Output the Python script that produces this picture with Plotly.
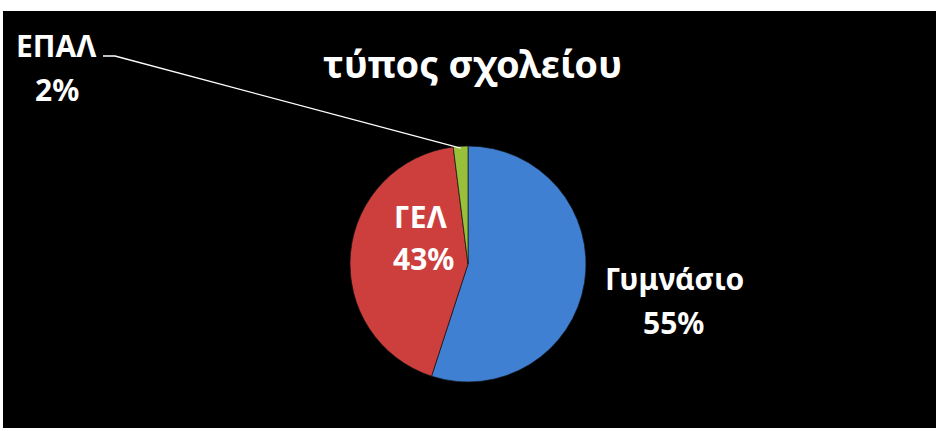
import math
import plotly.graph_objects as go

title_text = "τύπος σχολείου"
labels = ["Γυμνάσιο", "ΓΕΛ", "ΕΠΑΛ"]
values = [55, 43, 2]
colors = ["#3f80d2", "#cc3f3d", "#99c03a"]

W, H = 936, 431
cx, cy, R = 468, 264, 118

def px(x):
    return x / W

def py(y):
    return 1 - y / H

fig = go.Figure()
fig.add_trace(go.Pie(
    labels=labels,
    values=values,
    sort=False,
    direction="clockwise",
    rotation=0,
    marker=dict(colors=colors, line=dict(color="rgba(20,20,20,0.7)", width=1)),
    textinfo="none",
    hoverinfo="skip",
    showlegend=False,
    domain=dict(x=[px(cx - R), px(cx + R)], y=[py(cy + R), py(cy - R)]),
))

total = sum(values)
pcts = [round(v * 100 / total) for v in values]

font_fam = "Noto Sans"
# label positions (name center, percent center) in pixels
label_pos = [((674, 278), (673, 322)), ((421, 216), (423, 258)), ((56, 45), (57, 89))]
annotations = [dict(text="<b>%s</b>" % title_text, x=px(472), y=py(63), xref="paper", yref="paper",
                    showarrow=False, font=dict(family=font_fam, size=38, color="white"),
                    xanchor="center", yanchor="middle")]
for lab, p, (npos, ppos) in zip(labels, pcts, label_pos):
    annotations.append(dict(text="<b>%s</b>" % lab, x=px(npos[0]), y=py(npos[1]), xref="paper", yref="paper",
                            showarrow=False, font=dict(family=font_fam, size=30, color="white"),
                            xanchor="center", yanchor="middle"))
    annotations.append(dict(text="<b>%d%%</b>" % p, x=px(ppos[0]), y=py(ppos[1]), xref="paper", yref="paper",
                            showarrow=False, font=dict(family=font_fam, size=30, color="white"),
                            xanchor="center", yanchor="middle"))

# leader line for the small slice (ΕΠΑΛ), end point from pie geometry
start_frac = sum(values[:2]) / total
mid_frac = start_frac + values[2] / total / 2
ang = mid_frac * 2 * math.pi
ex = cx + R * math.sin(ang)
ey = cy - R * math.cos(ang)
shapes = [
    dict(type="rect", xref="paper", yref="paper", x0=px(3), x1=px(936), y0=py(428), y1=py(11),
         fillcolor="black", line=dict(width=0), layer="below"),
    dict(type="path", xref="paper", yref="paper",
         path="M %f,%f L %f,%f L %f,%f" % (px(103), py(56), px(115), py(56), px(ex), py(ey + 2)),
         line=dict(color="white", width=1.3)),
]

fig.update_layout(
    width=W, height=H,
    margin=dict(l=0, r=0, t=0, b=0),
    paper_bgcolor="white",
    annotations=annotations,
    shapes=shapes,
)
fig.write_html("out.html")
